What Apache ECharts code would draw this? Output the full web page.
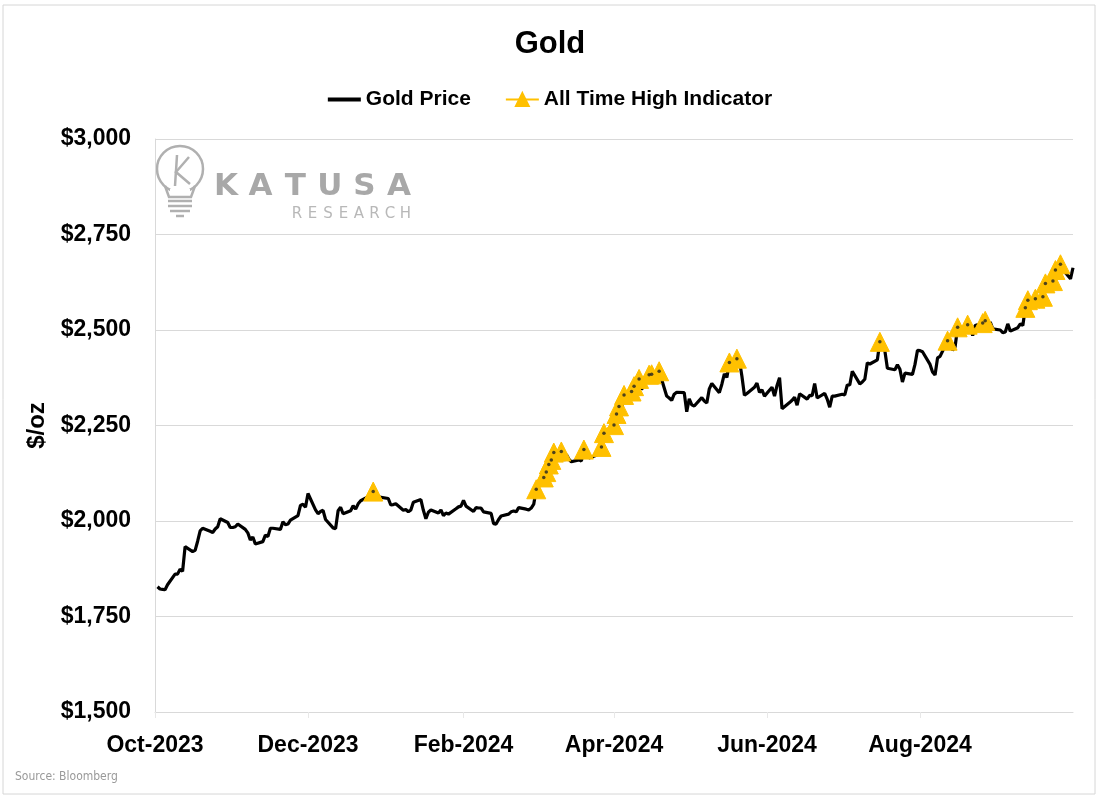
<!DOCTYPE html>
<html>
<head>
<meta charset="utf-8">
<script src="https://cdn.jsdelivr.net/npm/echarts@6/dist/echarts.min.js"></script>
<style>
html,body{margin:0;padding:0;background:#fff;}
#chart{width:1100px;height:808px;}
</style>
</head>
<body>
<div id="chart"></div>
<script>
// ---- Data ----
const dates = [
'2023-10-02','2023-10-03','2023-10-04','2023-10-05','2023-10-06','2023-10-09','2023-10-10','2023-10-11','2023-10-12','2023-10-13',
'2023-10-16','2023-10-17','2023-10-18','2023-10-19','2023-10-20','2023-10-23','2023-10-24','2023-10-25','2023-10-26','2023-10-27',
'2023-10-30','2023-10-31','2023-11-01','2023-11-02','2023-11-03','2023-11-06','2023-11-07','2023-11-08','2023-11-09','2023-11-10',
'2023-11-13','2023-11-14','2023-11-15','2023-11-16','2023-11-17','2023-11-20','2023-11-21','2023-11-22','2023-11-23','2023-11-24',
'2023-11-27','2023-11-28','2023-11-29','2023-11-30','2023-12-01','2023-12-04','2023-12-05','2023-12-06','2023-12-07','2023-12-08',
'2023-12-11','2023-12-12','2023-12-13','2023-12-14','2023-12-15','2023-12-18','2023-12-19','2023-12-20','2023-12-21','2023-12-22',
'2023-12-26','2023-12-27','2023-12-28','2023-12-29','2024-01-02','2024-01-03','2024-01-04','2024-01-05','2024-01-08','2024-01-09',
'2024-01-10','2024-01-11','2024-01-12','2024-01-15','2024-01-16','2024-01-17','2024-01-18','2024-01-19','2024-01-22','2024-01-23',
'2024-01-24','2024-01-25','2024-01-26','2024-01-29','2024-01-30','2024-01-31','2024-02-01','2024-02-02','2024-02-05','2024-02-06',
'2024-02-07','2024-02-08','2024-02-09','2024-02-12','2024-02-13','2024-02-14','2024-02-15','2024-02-16','2024-02-19','2024-02-20',
'2024-02-21','2024-02-22','2024-02-23','2024-02-26','2024-02-27','2024-02-28','2024-02-29','2024-03-01','2024-03-04','2024-03-05',
'2024-03-06','2024-03-07','2024-03-08','2024-03-11','2024-03-12','2024-03-13','2024-03-14','2024-03-15','2024-03-18','2024-03-19',
'2024-03-20','2024-03-21','2024-03-22','2024-03-25','2024-03-26','2024-03-27','2024-03-28','2024-04-01','2024-04-02','2024-04-03',
'2024-04-04','2024-04-05','2024-04-08','2024-04-09','2024-04-10','2024-04-11','2024-04-12','2024-04-15','2024-04-16','2024-04-17',
'2024-04-18','2024-04-19','2024-04-22','2024-04-23','2024-04-24','2024-04-25','2024-04-26','2024-04-29','2024-04-30','2024-05-01',
'2024-05-02','2024-05-03','2024-05-06','2024-05-07','2024-05-08','2024-05-09','2024-05-10','2024-05-13','2024-05-14','2024-05-15',
'2024-05-16','2024-05-17','2024-05-20','2024-05-21','2024-05-22','2024-05-23','2024-05-24','2024-05-27','2024-05-28','2024-05-29',
'2024-05-30','2024-05-31','2024-06-03','2024-06-04','2024-06-05','2024-06-06','2024-06-07','2024-06-10','2024-06-11','2024-06-12',
'2024-06-13','2024-06-14','2024-06-17','2024-06-18','2024-06-19','2024-06-20','2024-06-21','2024-06-24','2024-06-25','2024-06-26',
'2024-06-27','2024-06-28','2024-07-01','2024-07-02','2024-07-03','2024-07-04','2024-07-05','2024-07-08','2024-07-09','2024-07-10',
'2024-07-11','2024-07-12','2024-07-15','2024-07-16','2024-07-17','2024-07-18','2024-07-19','2024-07-22','2024-07-23','2024-07-24',
'2024-07-25','2024-07-26','2024-07-29','2024-07-30','2024-07-31','2024-08-01','2024-08-02','2024-08-05','2024-08-06','2024-08-07',
'2024-08-08','2024-08-09','2024-08-12','2024-08-13','2024-08-14','2024-08-15','2024-08-16','2024-08-19','2024-08-20','2024-08-21',
'2024-08-22','2024-08-23','2024-08-26','2024-08-27','2024-08-28','2024-08-29','2024-08-30','2024-09-02','2024-09-03','2024-09-04',
'2024-09-05','2024-09-06','2024-09-09','2024-09-10','2024-09-11','2024-09-12','2024-09-13','2024-09-16','2024-09-17','2024-09-18',
'2024-09-19','2024-09-20','2024-09-23','2024-09-24','2024-09-25','2024-09-26','2024-09-27','2024-09-30','2024-10-01'
];

const goldPrice = [
1828,1822,1821,1820,1833,1861,1861,1874,1868,1933,
1920,1923,1947,1974,1981,1973,1970,1979,1985,2006,
1996,1983,1983,1985,1992,1978,1969,1950,1958,1940,
1946,1963,1959,1981,1981,1978,1998,1990,1992,2002,
2014,2041,2044,2036,2072,2029,2019,2025,2028,2004,
1982,1980,2027,2036,2019,2027,2040,2031,2045,2053,
2067,2077,2065,2063,2059,2042,2043,2045,2028,2030,
2024,2029,2049,2056,2028,2006,2023,2029,2021,2029,
2014,2021,2018,2032,2037,2039,2054,2039,2025,2035,
2034,2034,2024,2020,1993,1992,2004,2013,2018,2024,
2026,2024,2035,2031,2029,2034,2044,2083,2114,2128,
2148,2160,2179,2182,2158,2174,2162,2155,2160,2157,
2187,2181,2165,2172,2179,2194,2230,2251,2280,2300,
2290,2330,2339,2353,2333,2372,2344,2383,2384,2361,
2379,2392,2327,2322,2316,2332,2337,2336,2286,2320,
2304,2301,2323,2314,2309,2346,2360,2336,2358,2385,
2376,2415,2425,2421,2379,2329,2334,2350,2361,2337,
2343,2327,2350,2327,2355,2375,2294,2310,2316,2324,
2303,2333,2319,2329,2328,2360,2322,2334,2319,2298,
2327,2327,2332,2330,2356,2356,2392,2359,2364,2371,
2414,2411,2422,2469,2459,2445,2400,2396,2409,2397,
2364,2387,2384,2410,2447,2446,2443,2410,2390,2382,
2427,2431,2472,2465,2447,2456,2507,2504,2514,2512,
2485,2512,2518,2524,2504,2521,2503,2500,2493,2495,
2516,2497,2506,2516,2512,2558,2578,2582,2569,2559,
2587,2622,2628,2657,2657,2672,2658,2634,2663
];

// Days flagged by the "All Time High Indicator"
const athDates = [
'2023-12-27',
'2024-03-01','2024-03-04','2024-03-05','2024-03-06','2024-03-07','2024-03-08','2024-03-11',
'2024-03-20','2024-03-27','2024-03-28',
'2024-04-01','2024-04-02','2024-04-03','2024-04-05','2024-04-08','2024-04-09','2024-04-11',
'2024-04-15','2024-04-16','2024-04-19',
'2024-05-17','2024-05-20',
'2024-07-16',
'2024-08-12','2024-08-16','2024-08-20','2024-08-26','2024-08-27',
'2024-09-12','2024-09-13','2024-09-16','2024-09-19','2024-09-20','2024-09-23','2024-09-24','2024-09-26'
];

const xTickMonths = ['2023-10-01','2023-12-01','2024-02-01','2024-04-01','2024-06-01','2024-08-01'];
const yTicks = [1500,1750,2000,2250,2500,2750,3000];
const monthNames = ['Jan','Feb','Mar','Apr','May','Jun','Jul','Aug','Sep','Oct','Nov','Dec'];

// ---- Build ----
function ts(s){ const p=s.split('-'); return Date.UTC(+p[0], +p[1]-1, +p[2]); }
const athSet = new Set(athDates);
const priceData = dates.map((d,i)=>[ts(d), goldPrice[i]]);
const athData = dates.map((d,i)=>[ts(d), athSet.has(d) ? goldPrice[i] : null]);
const athDots = dates.filter(d=>athSet.has(d)).map(d=>[ts(d), goldPrice[dates.indexOf(d)]]);
const xTickVals = xTickMonths.map(ts);

const FONT = "'Liberation Sans', Arial, sans-serif";
const WM = '#b0b0b0';

const chart = echarts.init(document.getElementById('chart'), null, {renderer:'canvas'});
chart.setOption({
  backgroundColor:'#ffffff',
  animation:false,
  title:{
    text:'Gold', left:'center', top:24,
    textStyle:{fontFamily:FONT, fontSize:31, fontWeight:'bold', color:'#000'}
  },
  legend:{
    data:[
      {name:'Gold Price', icon:'path://M0,0H33V4H0Z'},
      {name:'All Time High Indicator'}
    ],
    top:84, left:'center',
    itemWidth:33, itemHeight:16, itemGap:34,
    textStyle:{fontFamily:FONT, fontSize:21, fontWeight:'bold', color:'#000'}
  },
  grid:{left:155, right:27, top:139, bottom:96, containLabel:false},
  xAxis:{
    type:'value',
    min:ts('2023-10-01'), max:ts('2024-10-01'),
    axisLine:{show:true, lineStyle:{color:'#d9d9d9', width:1}},
    axisTick:{show:true, customValues:xTickVals, length:6, lineStyle:{color:'#e8e8e8'}},
    splitLine:{show:false},
    axisLabel:{
      customValues:xTickVals,
      margin:22,
      fontFamily:FONT, fontSize:23, fontWeight:'bold', color:'#000',
      formatter:function(v){ const d=new Date(v); return monthNames[d.getUTCMonth()]+'-'+d.getUTCFullYear(); }
    }
  },
  yAxis:{
    type:'value', min:1500, max:3000, interval:250,
    name:'$/oz', nameLocation:'middle', nameRotate:90, nameGap:100,
    nameTextStyle:{fontFamily:FONT, fontSize:24, fontWeight:'bold', color:'#000'},
    axisLine:{show:true, lineStyle:{color:'#d9d9d9', width:1}},
    axisTick:{show:false},
    splitLine:{show:true, lineStyle:{color:'#d9d9d9', width:1}},
    axisLabel:{
      margin:24,
      fontFamily:FONT, fontSize:23, fontWeight:'bold', color:'#000',
      formatter:function(v){ return '$'+v.toLocaleString('en-US'); }
    }
  },
  series:[
    {
      name:'Gold Price', type:'line', data:priceData,
      symbol:'none', showSymbol:false,
      lineStyle:{color:'#000000', width:3.2},
      itemStyle:{color:'#000000'},
      z:2
    },
    {
      name:'All Time High Indicator', type:'line', data:athData,
      connectNulls:false,
      symbol:'triangle', symbolSize:19, showSymbol:true, showAllSymbol:true,
      lineStyle:{color:'#FFC000', width:5},
      itemStyle:{color:'#FFC000', borderColor:'#FFC000', borderWidth:1},
      z:3
    },
    {
      name:'athDots', type:'scatter', data:athDots,
      symbol:'circle', symbolSize:3.5,
      itemStyle:{color:'#222'},
      silent:true, z:4
    }
  ],
  graphic:[
    {type:'rect', shape:{x:3,y:5,width:1092,height:789}, style:{fill:'none', stroke:'#d6d6d6', lineWidth:1}, silent:true, z:-10},
    // watermark: bulb
    {type:'circle', shape:{cx:180, cy:169, r:23}, style:{fill:'none', stroke:WM, lineWidth:2.5}, silent:true},
    {type:'rect', shape:{x:170,y:189,width:20,height:9}, style:{fill:'#ffffff', stroke:'none'}, silent:true},
    {type:'polyline', shape:{points:[[165,186],[169,197],[191,197],[195,186]]}, style:{fill:'none', stroke:WM, lineWidth:2.5}, silent:true},
    {type:'line', shape:{x1:168,y1:201,x2:192,y2:201}, style:{stroke:WM, lineWidth:2.5}, silent:true},
    {type:'line', shape:{x1:168,y1:206,x2:192,y2:206}, style:{stroke:WM, lineWidth:2.5}, silent:true},
    {type:'line', shape:{x1:170,y1:211,x2:190,y2:211}, style:{stroke:WM, lineWidth:2.5}, silent:true},
    {type:'line', shape:{x1:176,y1:216,x2:184,y2:216}, style:{stroke:WM, lineWidth:2.5}, silent:true},
    {type:'polyline', shape:{points:[[177,155],[175,186]]}, style:{fill:'none', stroke:WM, lineWidth:2.5}, silent:true},
    {type:'polyline', shape:{points:[[189,157],[176,172],[190,184]]}, style:{fill:'none', stroke:WM, lineWidth:2.5}, silent:true},
    // watermark text
    ...['K','A','T','U','S','A'].map((ch,i)=>({
      type:'text', x:226+i*34.6, y:187, silent:true,
      style:{text:ch, fill:'#a8a8a8', font:"bold 31px 'DejaVu Sans', sans-serif", textAlign:'center', textVerticalAlign:'middle'}
    })),
    ...['R','E','S','E','A','R','C','H'].map((ch,i)=>({
      type:'text', x:297+i*15.5, y:214, silent:true,
      style:{text:ch, fill:'#b8b8b8', font:"15px 'DejaVu Sans', sans-serif", textAlign:'center', textVerticalAlign:'middle'}
    })),
    {type:'text', left:15, top:771, silent:true,
     style:{text:'Source: Bloomberg', fill:'#999999', font:"12px 'DejaVu Sans Condensed', 'Liberation Sans', sans-serif"}}
  ]
});
</script>
</body>
</html>
